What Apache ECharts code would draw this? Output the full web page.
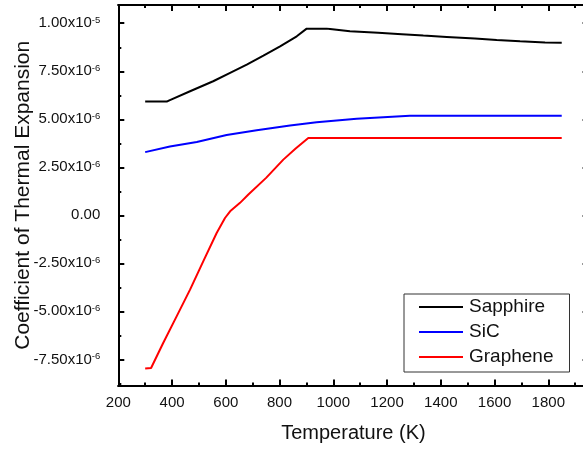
<!DOCTYPE html>
<html>
<head>
<meta charset="utf-8">
<script src="https://cdn.jsdelivr.net/npm/echarts@6/dist/echarts.min.js"></script>
<style>
html,body{margin:0;padding:0;background:#fff;}
#chart{width:583px;height:449px;}
</style>
</head>
<body>
<div id="chart"></div>
<script>
// Data (values in units of 1e-6 / K)
const sapphireT = [300, 380, 392, 467, 553, 616, 678, 740, 802, 864, 901, 975, 988, 1062, 1167, 1255, 1335, 1422, 1527, 1608, 1695, 1788, 1850];
const sapphireV = [5.92, 5.92, 6.00, 6.46, 6.98, 7.42, 7.85, 8.32, 8.80, 9.32, 9.72, 9.72, 9.70, 9.58, 9.50, 9.43, 9.36, 9.29, 9.21, 9.13, 9.06, 9.00, 8.99];
const sicT = [300, 392, 492, 603, 715, 839, 938, 1087, 1186, 1285, 1850];
const sicV = [3.29, 3.58, 3.82, 4.18, 4.43, 4.68, 4.85, 5.03, 5.11, 5.18, 5.18];
const grapheneT = [300, 322, 367, 417, 467, 516, 566, 597, 616, 653, 684, 750, 814, 860, 907, 1850];
const grapheneV = [-7.98, -7.95, -6.65, -5.26, -3.87, -2.40, -0.92, -0.14, 0.21, 0.65, 1.08, 1.95, 2.90, 3.48, 4.03, 4.03];
const seriesNames = ['Sapphire', 'SiC', 'Graphene'];
const seriesColors = ['#000000', '#0000ff', '#ff0000'];
const xMajorTicks = [200, 400, 600, 800, 1000, 1200, 1400, 1600, 1800];
const xMinorTicks = [300, 500, 700, 900, 1100, 1300, 1500, 1700, 1900];
const yMajorTicks = [-7.5e-6, -5e-6, -2.5e-6, 0, 2.5e-6, 5e-6, 7.5e-6, 1e-5];
const yMinorTicks = [-8.75e-6, -6.25e-6, -3.75e-6, -1.25e-6, 1.25e-6, 3.75e-6, 6.25e-6, 8.75e-6];
const yTickLabels = ['-7.50x10|-6', '-5.00x10|-6', '-2.50x10|-6', '0.00', '2.50x10|-6', '5.00x10|-6', '7.50x10|-6', '1.00x10|-5'];

const xMin = 200, xMax = 1950;
const yMin = -8.86e-6, yMax = 1.095e-5;

function pairs(t, v) { return t.map((x, i) => [x, v[i] * 1e-6]); }

const FONT = '"Liberation Sans", Arial, sans-serif';
const TXT = '#111';

function yFmt(val) {
  let best = 0, bd = Infinity;
  yMajorTicks.forEach((t, i) => { const d = Math.abs(t - val); if (d < bd) { bd = d; best = i; } });
  const s = yTickLabels[best];
  if (s.indexOf('|') < 0) return '{m|' + s + '}';
  const p = s.split('|');
  return '{m|' + p[0] + '}{s|' + p[1] + '}';
}

const lineStyleAxis = { color: '#000', width: 2 };
function xAxisDef(pos, ticks, len, labels) {
  return {
    type: 'value', position: pos, min: xMin, max: xMax, gridIndex: 0,
    axisLine: { show: true, onZero: false, lineStyle: lineStyleAxis },
    axisTick: { show: true, inside: true, length: len, customValues: ticks, lineStyle: { color: '#000', width: 2 } },
    axisLabel: labels ? { show: true, customValues: ticks, margin: 10, color: TXT, fontSize: 15, fontFamily: FONT,
      formatter: v => String(Math.round(v)) } : { show: false },
    splitLine: { show: false }
  };
}
function yAxisDef(pos, ticks, len, labels) {
  return {
    type: 'value', position: pos, min: yMin, max: yMax, gridIndex: 0,
    axisLine: { show: true, onZero: false, lineStyle: lineStyleAxis },
    axisTick: { show: true, inside: true, length: len, customValues: ticks, lineStyle: { color: '#000', width: 2 } },
    axisLabel: labels ? {
      show: true, customValues: ticks, margin: 18, formatter: yFmt,
      rich: {
        m: { fontSize: 15, fontFamily: FONT, color: TXT, lineHeight: 16 },
        s: { fontSize: 9.5, fontFamily: FONT, color: TXT, lineHeight: 10, verticalAlign: 'top' }
      }
    } : { show: false },
    splitLine: { show: false }
  };
}

const xA = [
  xAxisDef('bottom', xMajorTicks, 6, true),
  xAxisDef('bottom', xMinorTicks, 3, false),
  xAxisDef('top', xMajorTicks, 6, false),
  xAxisDef('top', xMinorTicks, 3, false)
];
Object.assign(xA[0], {
  name: 'Temperature (K)', nameLocation: 'middle', nameGap: 38, nameMoveOverlap: false,
  nameTextStyle: { fontSize: 20, fontFamily: FONT, color: TXT }
});
const yA = [
  yAxisDef('left', yMajorTicks, 6, true),
  yAxisDef('left', yMinorTicks, 3, false),
  yAxisDef('right', yMajorTicks, 6, false),
  yAxisDef('right', yMinorTicks, 3, false)
];
Object.assign(yA[0], {
  name: 'Coefficient of Thermal Expansion', nameLocation: 'middle', nameGap: 85, nameRotate: 90, nameMoveOverlap: false,
  nameTextStyle: { fontSize: 21, fontFamily: FONT, color: TXT }
});

const allData = [pairs(sapphireT, sapphireV), pairs(sicT, sicV), pairs(grapheneT, grapheneV)];

const chart = echarts.init(document.getElementById('chart'), null, { renderer: 'canvas' });
chart.setOption({
  animation: false,
  backgroundColor: '#fff',
  grid: { left: 118.3, top: 5, right: -5.6, bottom: 63.5, containLabel: false, outerBoundsMode: 'none' },
  xAxis: xA,
  yAxis: yA,
  legend: {
    orient: 'vertical', left: 404, top: 294,
    data: seriesNames,
    icon: 'rect', itemWidth: 44, itemHeight: 2, itemGap: 1,
    padding: [1, 16, 3, 15],
    borderColor: '#333', borderWidth: 1, backgroundColor: '#fff',
    textStyle: { fontSize: 19, fontFamily: FONT, color: TXT, lineHeight: 24, padding: [0, 0, 0, 1] },
    itemStyle: { borderWidth: 0 }
  },
  series: seriesNames.map((n, i) => ({
    name: n, type: 'line', xAxisIndex: 0, yAxisIndex: 0,
    data: allData[i], showSymbol: false, symbol: 'none',
    lineStyle: { color: seriesColors[i], width: 2 },
    itemStyle: { color: seriesColors[i] },
    z: 3 - i
  }))
});
</script>
</body>
</html>
